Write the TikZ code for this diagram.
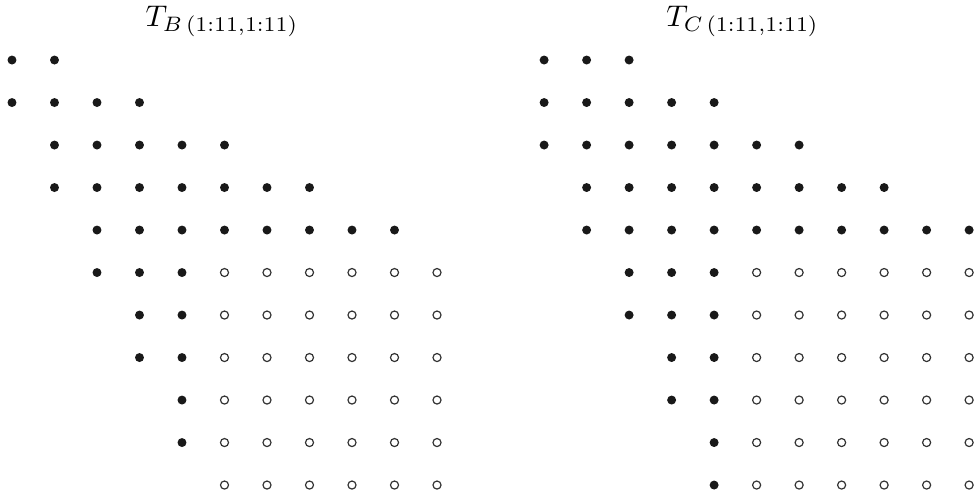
\documentclass[tikz,border=0pt]{standalone}
\usetikzlibrary{positioning}
\begin{document}
\begin{tikzpicture}[x=0.5cm,y=0.5cm,
   full/.style={circle,fill=black!90,inner sep=0pt,minimum size=3pt},
   empty/.style={circle,draw=black!80,line width=0.4pt,inner sep=0pt,minimum size=2.7pt},
   ttl/.style={anchor=base,inner sep=0pt}]
  \useasboundingbox (-0.282,1.412) rectangle (22.682,-10.235);
  % T_B : filled entries per row (first/last column), then the zero block
  \foreach \r/\a/\b in {1/1/2,2/1/4,3/2/6,4/2/8,5/3/10,6/3/5,7/4/5,8/4/5,9/5/5,10/5/5}
    \foreach \c in {\a,...,\b} \node[full] (b-\r-\c) at (\c-1,1-\r) {};
  \foreach \r in {6,...,11}
    \foreach \c in {6,...,11} \node[empty] (b-\r-\c) at (\c-1,1-\r) {};
  % T_C
  \foreach \r/\a/\b in {1/1/3,2/1/5,3/1/7,4/2/9,5/2/11,6/3/5,7/3/5,8/4/5,9/4/5,10/5/5,11/5/5}
    \foreach \c in {\a,...,\b} \node[full] (c-\r-\c) at (\c+11.52,1-\r) {};
  \foreach \r in {6,...,11}
    \foreach \c in {6,...,11} \node[empty] (c-\r-\c) at (\c+11.52,1-\r) {};
  \node[ttl] (tb) at (4.94,0.8) {$T_{B\,(1:11,1:11)}$};
  \node[ttl] (tc) at (17.19,0.8) {$T_{C\,(1:11,1:11)}$};
\end{tikzpicture}
\end{document}
